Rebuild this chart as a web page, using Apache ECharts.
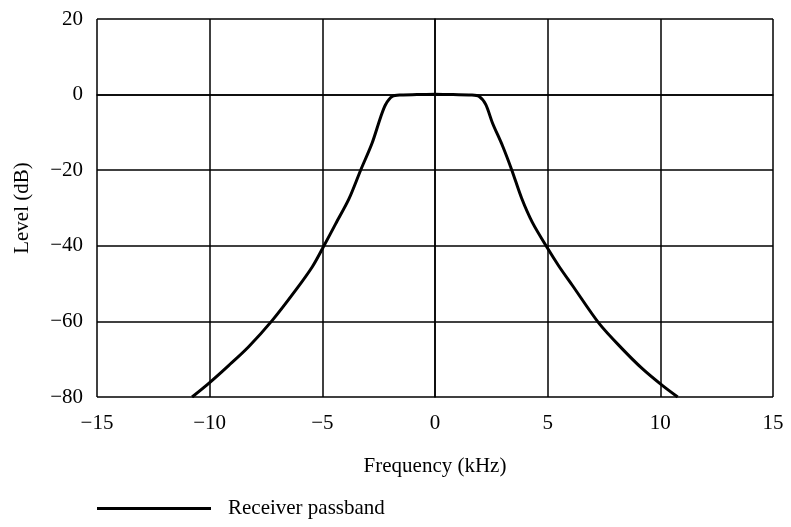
<!DOCTYPE html>
<html><head><meta charset="utf-8">
<script src="https://cdn.jsdelivr.net/npm/echarts@6/dist/echarts.min.js"></script>
<style>html,body{margin:0;padding:0;background:#fff}#c{width:791px;height:527px}</style>
</head><body><div id="c"></div>
<script>
const freq = [-10.78,-10.04,-9.16,-8.27,-7.23,-6.19,-5.45,-5.0,-4.41,-3.82,-3.30,-2.79,-2.41,-2.19,-1.9,-1.5,-0.8,0,0.8,1.6,1.96,2.25,2.55,3.0,3.41,3.85,4.32,4.99,5.5,6.10,7.29,8.3,9.2,10.1,10.77];
const level = [-80,-76.4,-71.7,-66.7,-59.8,-51.8,-45.6,-40.8,-34.2,-27.6,-20,-12.8,-5.9,-2.6,-0.5,-0.1,0,0.1,0,-0.1,-0.5,-2.6,-7.5,-13.6,-20,-27.5,-33.8,-40.6,-45.4,-50.5,-60.6,-67.2,-72.5,-77.0,-80];
const xTicks = [-15,-10,-5,0,5,10,15];
const yTicks = [-80,-60,-40,-20,0,20];
const seriesName = 'Receiver passband';
const font = 'Liberation Serif, Times New Roman, serif';
const fmt = v => String(v).replace('-', '\u2212');
const chart = echarts.init(document.getElementById('c'), null, {renderer:'canvas'});
chart.setOption({
  animation:false,
  backgroundColor:'#fff',
  grid:{left:97,right:18,top:19,bottom:130,containLabel:false},
  xAxis:{type:'value',min:xTicks[0],max:xTicks[xTicks.length-1],interval:5,
    name:'Frequency (kHz)',nameLocation:'middle',nameGap:59,
    nameTextStyle:{fontFamily:font,fontSize:21,color:'#000'},
    axisLine:{lineStyle:{color:'#000',width:1.5}},axisTick:{show:false},
    axisLabel:{fontFamily:font,fontSize:21,color:'#000',margin:16,formatter:fmt},
    splitLine:{show:true,lineStyle:{color:'#000',width:1.5}}},
  yAxis:{type:'value',min:yTicks[0],max:yTicks[yTicks.length-1],interval:20,
    name:'Level (dB)',nameLocation:'middle',nameGap:64,
    nameTextStyle:{fontFamily:font,fontSize:21,color:'#000'},
    axisLine:{show:true,lineStyle:{color:'#000',width:1.5}},axisTick:{show:false},
    axisLabel:{fontFamily:font,fontSize:21,color:'#000',margin:14,formatter:fmt},
    splitLine:{show:true,lineStyle:{color:'#000',width:1.5}}},
  legend:{left:97,top:498,padding:0,icon:'rect',itemWidth:114,itemHeight:3,itemGap:10,
    textStyle:{fontFamily:font,fontSize:21,color:'#000',padding:[0,0,0,12]},
    data:[seriesName]},
  series:[{name:seriesName,type:'line',smooth:0.3,symbol:'none',
    lineStyle:{color:'#000',width:3},itemStyle:{color:'#000'},
    data:freq.map((f,i)=>[f,level[i]])}]
});
</script></body></html>
